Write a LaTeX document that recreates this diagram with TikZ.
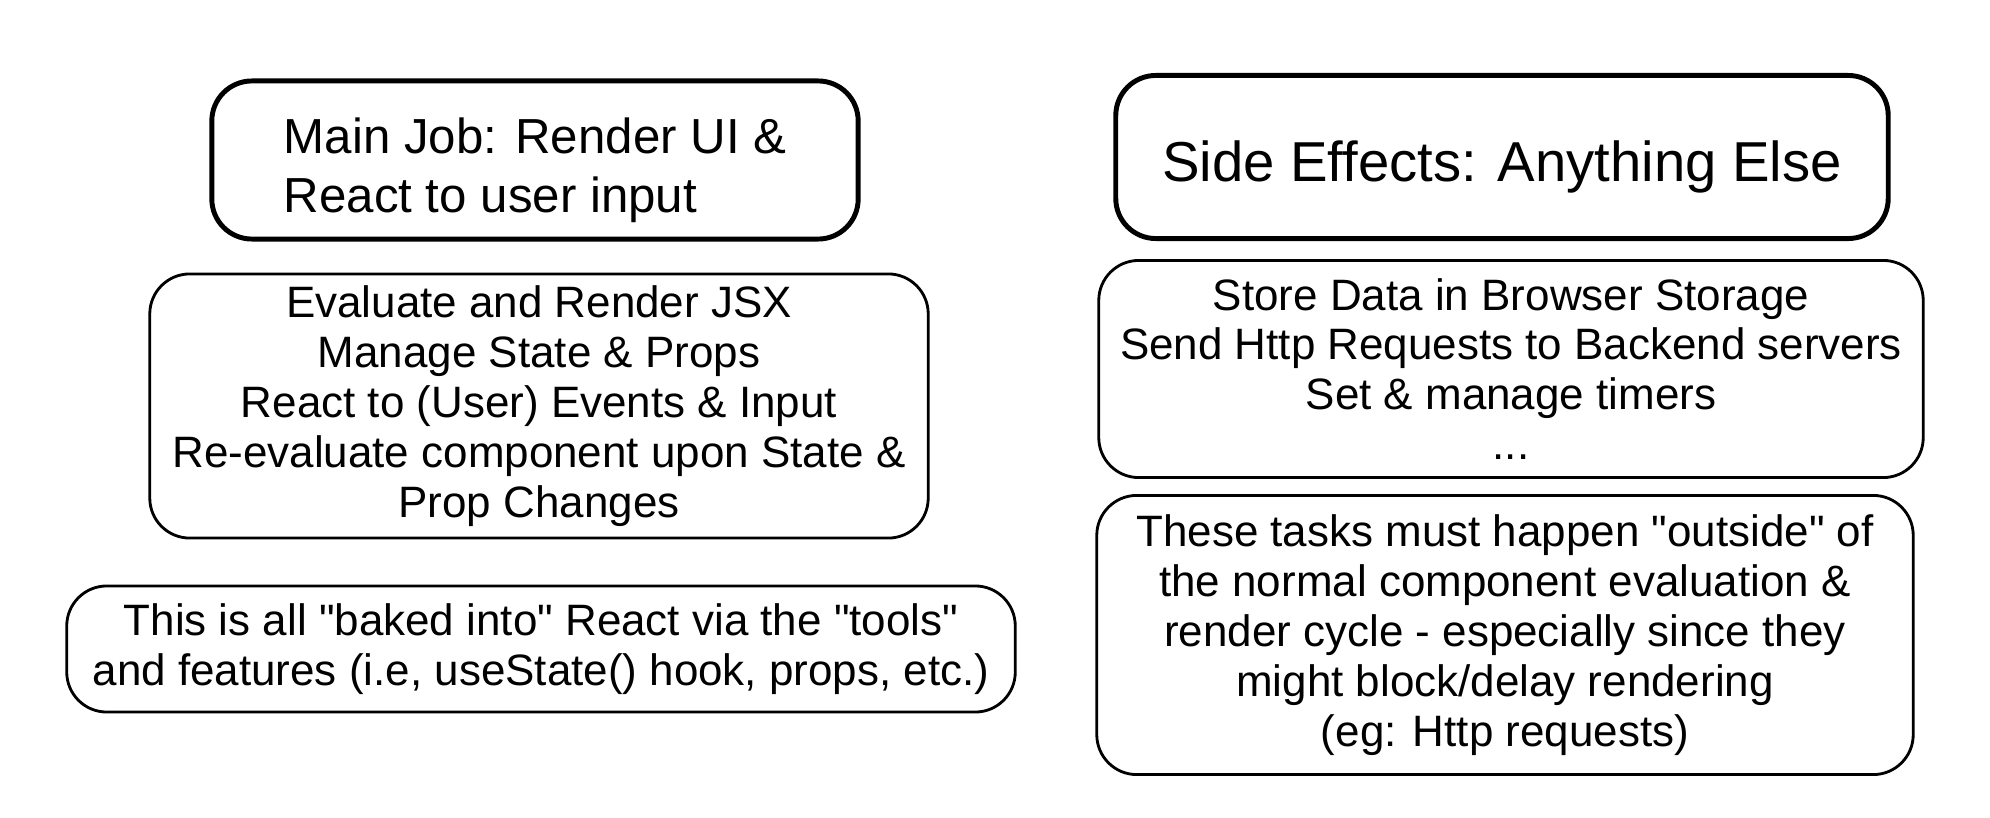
\documentclass[tikz,border=0pt]{standalone}
\usepackage{fontspec}
\setmainfont{Liberation Sans}
\newcommand{\qq}[1]{\textquotedbl#1\textquotedbl}
\tikzset{
  card/.style={draw, rounded corners=0.4cm, line width=0.8pt, inner sep=0pt, align=center,
    font=\fontsize{12.5}{14.2}\selectfont},
  titlecard/.style={card, line width=1.4pt}
}
\begin{document}
\begin{tikzpicture}[x=0.01cm, y=-0.01cm]
\useasboundingbox (0, 0) rectangle (1990, 818);
% left column
\node[titlecard, minimum width=6.46cm, minimum height=1.58cm, align=left, text height=33pt,
  font=\fontsize{14}{17}\selectfont] (mainjob) at (535, 160)
  {Main Job: Render UI \&\\React to user input};
\node[card, minimum width=7.78cm, minimum height=2.64cm] (jsx) at (539, 406)
  {Evaluate and Render JSX\\Manage State \& Props\\React to (User) Events \& Input\\
   Re-evaluate component upon State \&\\Prop Changes};
\node[card, minimum width=9.48cm, minimum height=1.26cm] (baked) at (541, 649)
  {This is all \qq{baked into} React via the \qq{tools}\\
   and features (i.e, useState() hook, props, etc.)};
% right column
\node[titlecard, minimum width=7.72cm, minimum height=1.63cm, text height=17pt,
  font=\fontsize{16}{19}\selectfont] (side) at (1502, 157)
  {Side Effects: Anything Else};
\node[card, minimum width=8.24cm, minimum height=2.17cm] (store) at (1511, 369)
  {Store Data in Browser Storage\\Send Http Requests to Backend servers\\
   Set \& manage timers\\...};
\node[card, minimum width=8.16cm, minimum height=2.79cm] (tasks) at (1505, 635)
  {These tasks must happen \qq{outside} of\\the normal component evaluation \&\\
   render cycle - especially since they\\might block/delay rendering\\(eg: Http requests)};
\end{tikzpicture}
\end{document}
